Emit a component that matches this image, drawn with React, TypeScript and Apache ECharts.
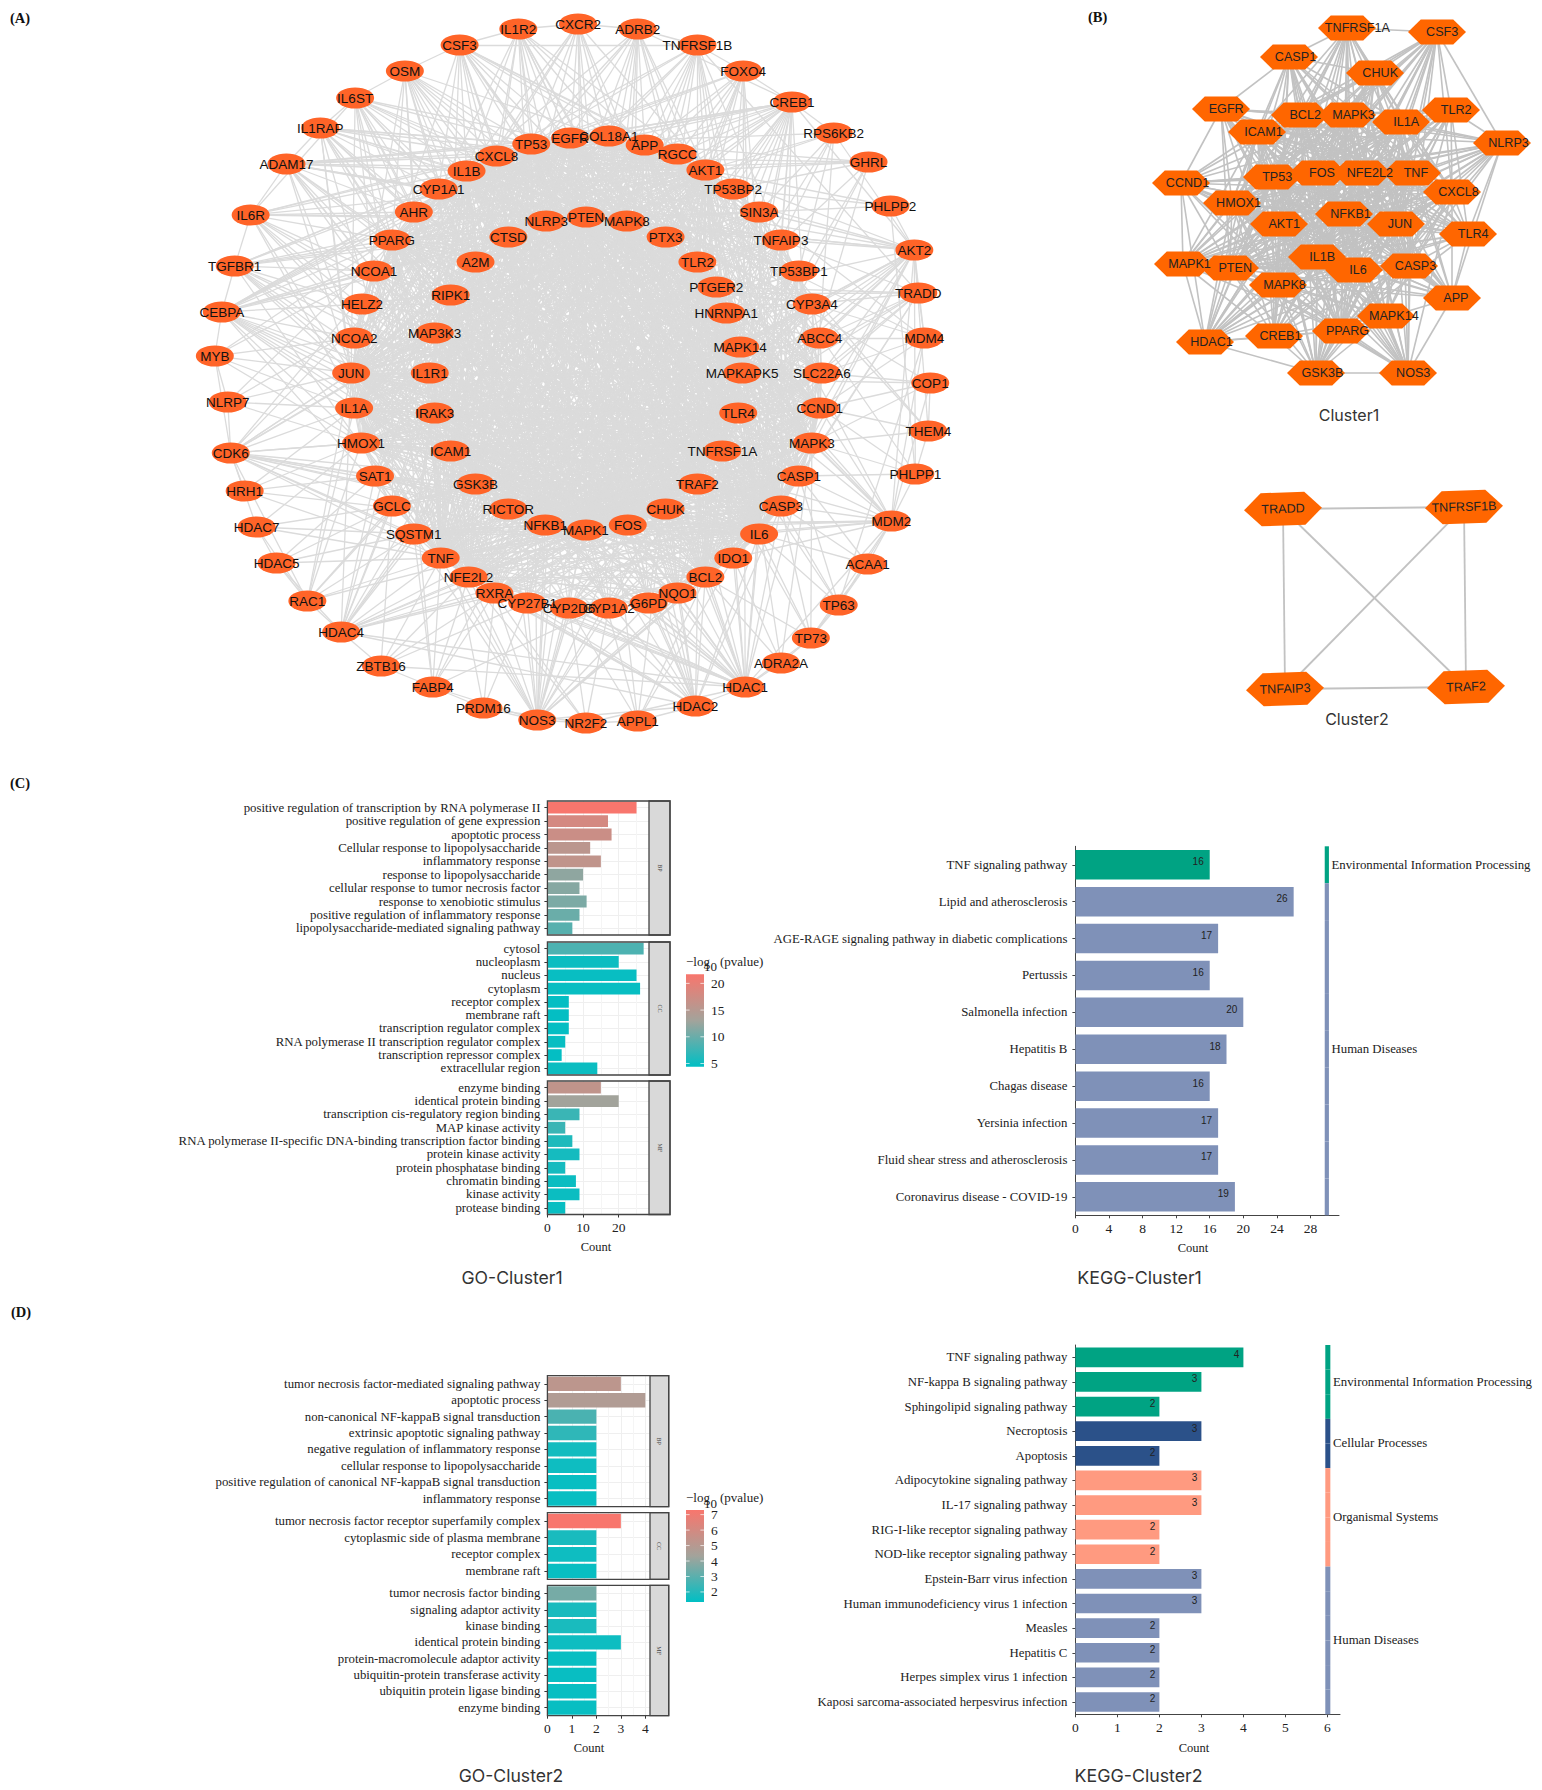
import React, { useEffect, useRef } from "react";
import * as echarts from "echarts";

// ---------- Network (A): gene, x, y (in network units) ----------
const outerRing: [string, number, number][] = [
  ["CXCR2",580,24],["ADRB2",640,29],["TNFRSF1B",700,45],["FOXO4",746,71],["CREB1",795,102],["RPS6KB2",837,133],["GHRL",872,162],["PHLPP2",894,206],["AKT2",918,250],["TRADD",922,293],["MDM4",928,338],["COP1",934,383],["THEM4",932,431],["PHLPP1",919,474],["MDM2",895,521],["ACAA1",871,564],["TP63",842,605],["TP73",814,638],["ADRA2A",784,663],["HDAC1",748,687],["HDAC2",698,706],["APPL1",640,721],["NR2F2",588,723],["NOS3",539,720],["PRDM16",485,708],["FABP4",434,687],["ZBTB16",382,666],["HDAC4",342,632],["RAC1",308,601],["HDAC5",277,563],["HDAC7",257,527],["HRH1",245,491],["CDK6",231,453],["NLRP7",228,402],["MYB",215,356],["CEBPA",222,312],["TGFBR1",235,266],["IL6R",251,215],["ADAM17",287,164],["IL1RAP",321,128],["IL6ST",356,98],["OSM",406,71],["CSF3",461,45],["IL1R2",520,29],
];
const middleRing: [string, number, number][] = [
  ["EGFR",572,138],["COL18A1",611,136],["APP",647,145],["RGCC",680,154],["AKT1",708,170],["TP53BP2",736,189],["SIN3A",762,212],["TNFAIP3",784,240],["TP53BP1",802,271],["CYP3A4",815,304],["ABCC4",823,338],["SLC22A6",825,373],["CCND1",823,408],["MAPK3",815,443],["CASP1",802,476],["CASP3",784,506],["IL6",762,534],["IDO1",736,558],["BCL2",708,577],["NQO1",680,593],["G6PD",651,603],["CYP1A2",611,608],["CYP2D6",571,608],["CYP27B1",529,603],["RXRA",496,593],["NFE2L2",470,577],["TNF",442,558],["SQSTM1",415,534],["GCLC",393,506],["SAT1",376,476],["HMOX1",362,443],["IL1A",355,408],["JUN",352,373],["NCOA2",355,338],["HELZ2",363,304],["NCOA1",375,271],["PPARG",393,240],["AHR",415,212],["CYP1A1",440,189],["IL1B",468,171],["CXCL8",498,156],["TP53",533,144],
];
const innerRing: [string, number, number][] = [
  ["PTEN",588,217],["MAPK8",629,221],["PTX3",668,237],["TLR2",700,262],["PTGER2",719,287],["HNRNPA1",729,313],["MAPK14",743,347],["MAPKAPK5",745,373],["TLR4",741,413],["TNFRSF1A",725,451],["TRAF2",700,484],["CHUK",668,509],["FOS",630,525],["MAPK1",588,530],["NFKB1",547,525],["RICTOR",510,509],["GSK3B",477,484],["ICAM1",452,451],["IRAK3",436,413],["IL1R1",431,373],["MAP3K3",436,333],["RIPK1",452,295],["A2M",477,262],["CTSD",510,237],["NLRP3",548,221],
];
// Core genes of network A that form the dense centre
const coreGenes = "TNFRSF1A CASP1 CHUK EGFR BCL2 MAPK3 TLR2 IL1A ICAM1 NLRP3 CCND1 TP53 FOS NFE2L2 TNF CXCL8 HMOX1 NFKB1 AKT1 JUN TLR4 IL1B IL6 CASP3 MAPK1 PTEN MAPK8 APP MAPK14 PPARG GSK3B".split(" ");
const setOne = "TP53 AKT1 TNF IL6 IL1B JUN FOS CASP3 NFKB1 PTEN MAPK1 MAPK8";
const setTwo = "MAPK3 BCL2 EGFR PPARG TLR4 CXCL8 APP HMOX1 GSK3B NFE2L2 MAPK14 CCND1";
const setThree = "TLR2 IL1A ICAM1 NLRP3 CASP1 CHUK TNFRSF1A SLC22A6 CYP3A4 RIPK1 TRAF2 IRAK3";
const peripheralLinks: [string, string][] = [
  ["COL18A1", `${setOne} ${setThree}`], ["RGCC", `${setTwo} SIN3A IL1R1`], ["TP53BP2", `${setOne} TP53BP1 SIN3A`], ["SIN3A", `${setOne} ${setThree}`],
  ["TNFAIP3", `${setOne} ${setThree}`], ["TP53BP1", `${setOne} ${setTwo}`], ["CYP3A4", `${setTwo} CYP1A1 CYP1A2 CYP2D6 CYP27B1 ABCC4`], ["ABCC4", `${setTwo} SLC22A6 RXRA`],
  ["SLC22A6", `${setOne} ${setTwo}`], ["IDO1", `${setOne} ${setThree}`], ["NQO1", `${setOne} ${setTwo} G6PD`], ["G6PD", `${setOne} RXRA`],
  ["CYP1A2", `${setTwo} CYP1A1 AHR CYP2D6`], ["CYP2D6", `${setTwo} RXRA`], ["CYP27B1", `${setOne} RXRA`], ["RXRA", `${setOne} ${setThree}`],
  ["SQSTM1", `${setOne} ${setThree}`], ["GCLC", `${setTwo} SAT1`], ["SAT1", `${setOne} IL1R1`], ["NCOA2", `${setTwo} NCOA1 HELZ2`],
  ["HELZ2", `${setThree} NCOA1`], ["NCOA1", `${setOne} ${setTwo}`], ["AHR", `${setOne} ${setTwo}`], ["CYP1A1", `${setOne} ${setTwo}`],
  ["PTX3", `${setOne} ${setThree}`], ["PTGER2", `${setOne} ${setTwo}`], ["HNRNPA1", `${setTwo} MAPK14 TRAF2`], ["MAPKAPK5", `${setOne} ${setThree}`],
  ["TRAF2", `${setOne} ${setTwo} RIPK1`], ["RICTOR", `${setOne} ${setThree}`], ["IRAK3", `${setOne} ${setTwo}`], ["IL1R1", `${setOne} ${setThree}`],
  ["MAP3K3", `${setOne} ${setThree}`], ["RIPK1", `${setOne} ${setTwo}`], ["A2M", `${setOne} ${setThree}`], ["CTSD", `${setOne} ${setTwo}`],
];
const outerLinks: [string, string][] = [
  ["CXCR2", `IL1R2 ADRB2 CXCL8 ${setOne}`],
  ["ADRB2", `CXCR2 TNFRSF1B EGFR MAPK3 APP CREB1 ${setOne}`],
  ["TNFRSF1B", `CSF3 ADRB2 TRADD TRAF2 CASP1 ${setOne} RIPK1 TNFAIP3`],
  ["FOXO4", `TNFRSF1B CREB1 HDAC1 EGFR BCL2 ${setOne}`],
  ["CREB1", `FOXO4 RPS6KB2 APP RGCC EGFR COL18A1 CXCL8 TP53BP2 SIN3A MAPK3 MAPK14 PPARG HDAC1 BCL2 GSK3B ${setOne}`],
  ["RPS6KB2", "AKT1 AKT2 CREB1 TNFAIP3 SIN3A TP53 PTEN MAPK1 TP53BP1 MAPK3"],
  ["GHRL", "IL1B AKT1 CXCL8 TNF NOS3 PTEN IL6 TLR4 APP"],
  ["PHLPP2", "AKT2 AKT1 PHLPP1 TP53BP2 SIN3A"],
  ["AKT2", `PHLPP2 MDM2 TRADD CCND1 GSK3B SLC22A6 CYP3A4 MAPK14 TNFAIP3 ABCC4 CREB1 SIN3A ${setOne}`],
  ["TRADD", "TNFAIP3 PTGER2 TNFRSF1A TRAF2 CASP3 CASP1 MDM4 CYP3A4 ABCC4 RIPK1 NFKB1 TNF"],
  ["MDM4", "MDM2 TP53 AKT2 ABCC4 SLC22A6 CCND1 TP63 CYP3A4 AKT1"],
  ["COP1", "MDM2 TP53 JUN SLC22A6 THEM4 CCND1 MAPK3"],
  ["THEM4", "AKT2 MAPK3 PHLPP1 CCND1 AKT1 CYP3A4"],
  ["PHLPP1", "AKT2 AKT1 MDM2 CASP1 MAPK3 CCND1"],
  ["MDM2", `ACAA1 PHLPP1 CCND1 CASP1 MAPK3 HDAC1 TP63 TP73 IDO1 ${setOne}`],
  ["ACAA1", "MDM2 TP63 CASP3 IL6 CASP1"],
  ["TP63", "TP73 MDM2 TP53 CASP3 CASP1 IL6"],
  ["TP73", "TP63 TP53 ACAA1 CASP3 HDAC1 BCL2 IL6 MAPK3"],
  ["ADRA2A", "HDAC1 TP73 IDO1 MAPK3 AKT1 BCL2"],
  ["HDAC1", `HDAC2 HDAC4 ADRA2A IDO1 BCL2 NQO1 G6PD CYP27B1 CYP2D6 RXRA NFE2L2 CCND1 PPARG TP53 ${setOne}`],
  ["HDAC2", `HDAC1 HDAC4 APPL1 BCL2 NFE2L2 RXRA CYP27B1 NQO1 G6PD NOS3 ${setOne}`],
  ["APPL1", "HDAC2 AKT1 EGFR MAPK1 CYP2D6 NR2F2 IDO1 BCL2"],
  ["NR2F2", "RXRA NOS3 HDAC1 CYP1A2 NFE2L2 APPL1 CYP2D6"],
  ["NOS3", `RXRA CYP27B1 CYP2D6 CYP1A2 BCL2 NFE2L2 EGFR G6PD SQSTM1 HDAC2 ${setOne}`],
  ["PRDM16", "FABP4 NOS3 RXRA PPARG NR2F2 CYP27B1"],
  ["FABP4", "PPARG TNF ZBTB16 NFE2L2 RXRA NOS3 PRDM16 SQSTM1 IL6 AKT1"],
  ["ZBTB16", "HDAC4 HDAC1 FABP4 RXRA TNF GCLC CYP27B1 NFE2L2"],
  ["HDAC4", `RAC1 HDAC5 HDAC2 HDAC1 SQSTM1 NFE2L2 GCLC SAT1 RXRA ZBTB16 ${setOne}`],
  ["RAC1", "HDAC4 HDAC5 TNF AKT1 SQSTM1 HMOX1 MAPK1 GCLC CDK6 IL1A JUN"],
  ["HDAC5", "HDAC7 HDAC4 TNF SQSTM1 GCLC SAT1"],
  ["HDAC7", "HDAC5 GCLC HMOX1 CDK6 RAC1 SQSTM1 TNF"],
  ["HRH1", "SAT1 IL1A CDK6 MAPK1 TNF HMOX1"],
  ["CDK6", `CCND1 IL1A HMOX1 SAT1 GCLC SQSTM1 NLRP7 HDAC1 ${setOne}`],
  ["NLRP7", "CDK6 IL1A NLRP3 MYB JUN IL1B HMOX1"],
  ["MYB", "CEBPA JUN NCOA2 IL1A HMOX1 CDK6 NCOA1 TP53"],
  ["CEBPA", `MYB TGFBR1 PPARG NCOA1 NCOA2 HELZ2 AHR EGFR CXCL8 HMOX1 HDAC1 ${setOne}`],
  ["TGFBR1", `IL6R CEBPA PPARG NCOA1 HELZ2 EGFR ${setOne}`],
  ["IL6R", `ADAM17 TGFBR1 IL6ST PPARG AHR CXCL8 NCOA1 ${setOne}`],
  ["ADAM17", `IL6R IL1RAP EGFR CXCL8 CYP1A1 PPARG AHR APP NCOA1 ${setOne}`],
  ["IL1RAP", `IL6ST ADAM17 CXCL8 IL1A CYP1A1 AHR PPARG RGCC ${setOne}`],
  ["IL6ST", `OSM IL1RAP CYP1A1 AHR PPARG CXCL8 NCOA1 ${setOne}`],
  ["OSM", `IL6ST CSF3 CXCL8 CYP1A1 PPARG AHR ${setOne}`],
  ["CSF3", `OSM IL1R2 TNFRSF1B CXCL8 EGFR COL18A1 APP CYP1A1 RGCC ${setOne}`],
  ["IL1R2", `CSF3 CXCR2 CXCL8 EGFR APP COL18A1 ${setOne}`],
];

// ---------- Clusters (B) ----------
const clusterOneNodes: [string, number, number][] = [
  ["TNFRSF1A",1347,28],["CSF3",1437,32],["CASP1",1289,57],["CHUK",1375,73],["EGFR",1221,109],["BCL2",1300,115],["MAPK3",1347,115],["TLR2",1451,110],["IL1A",1401,122],["ICAM1",1257,132],["NLRP3",1502,143],["CCND1",1181,183],["TP53",1272,177],["FOS",1318,173],["NFE2L2",1362,173],["TNF",1412,173],["CXCL8",1452,192],["HMOX1",1232,203],["NFKB1",1344,214],["AKT1",1279,224],["JUN",1396,224],["TLR4",1468,234],["IL1B",1317,257],["IL6",1354,270],["CASP3",1409,266],["MAPK1",1183,264],["PTEN",1230,268],["MAPK8",1278,285],["APP",1452,298],["MAPK14",1386,316],["PPARG",1341,331],["CREB1",1274,336],["HDAC1",1205,342],["GSK3B",1316,373],["NOS3",1408,373],
];
const clusterOneShell = "TNFRSF1A CSF3 CASP1 CHUK EGFR TLR2 NLRP3 CCND1 MAPK1 APP TLR4 HDAC1 GSK3B NOS3 CREB1 MAPK14".split(" ");
const clusterOneShellLinks: [string, string][] = [
  ["TNFRSF1A","CSF3"],["CASP1","TNFRSF1A"],["CSF3","NLRP3"],["CSF3","TLR2"],["EGFR","CASP1"],["EGFR","CCND1"],["CCND1","MAPK1"],["CCND1","HDAC1"],["MAPK1","HDAC1"],["HDAC1","GSK3B"],["HDAC1","CREB1"],["GSK3B","NOS3"],["NOS3","APP"],["APP","TLR4"],["NLRP3","TLR4"],["NLRP3","APP"],["GSK3B","MAPK14"],["CHUK","TNFRSF1A"],["CASP1","CHUK"],["NOS3","MAPK14"],["CREB1","GSK3B"],["TLR2","NLRP3"],["TLR2","TLR4"],["CSF3","CHUK"],["MAPK1","CREB1"],["CREB1","MAPK14"],
];
const clusterTwoNodes: [string, number, number][] = [["TRADD",1283,509],["TNFRSF1B",1464,507],["TNFAIP3",1285,689],["TRAF2",1466,687]];
const clusterTwoLinks: [string, string][] = [["TRADD","TNFRSF1B"],["TRADD","TNFAIP3"],["TNFAIP3","TRAF2"],["TNFRSF1B","TRAF2"],["TRADD","TRAF2"],["TNFRSF1B","TNFAIP3"]];

// ---------- GO-Cluster1 ----------
const go1BpTerms = ["positive regulation of transcription by RNA polymerase II","positive regulation of gene expression","apoptotic process","Cellular response to lipopolysaccharide","inflammatory response","response to lipopolysaccharide","cellular response to tumor necrosis factor","response to xenobiotic stimulus","positive regulation of inflammatory response","lipopolysaccharide-mediated signaling pathway"];
const go1BpCounts = [25,17,18,12,15,10,9,11,9,7];
const go1BpLogP = [21.7,18,17,15.5,16,12,11.5,11,10,9];
const go1CcTerms = ["cytosol","nucleoplasm","nucleus","cytoplasm","receptor complex","membrane raft","transcription regulator complex","RNA polymerase II transcription regulator complex","transcription repressor complex","extracellular region"];
const go1CcCounts = [27,20,25,26,6,6,6,5,4,14];
const go1CcLogP = [8.5,5,4.8,4.8,4.6,4.6,4.6,4.8,4.6,5];
const go1MfTerms = ["enzyme binding","identical protein binding","transcription cis-regulatory region binding","MAP kinase activity","RNA polymerase II-specific DNA-binding transcription factor binding","protein kinase activity","protein phosphatase binding","chromatin binding","kinase activity","protease binding"];
const go1MfCounts = [15,20,9,5,7,9,5,8,9,5];
const go1MfLogP = [16,13,7.5,7.5,6,5.5,5.5,5,5,4.8];
const go1LegendTicks = [5,10,15,20];

// ---------- GO-Cluster2 ----------
const go2BpTerms = ["tumor necrosis factor-mediated signaling pathway","apoptotic process","non-canonical NF-kappaB signal transduction","extrinsic apoptotic signaling pathway","negative regulation of inflammatory response","cellular response to lipopolysaccharide","positive regulation of canonical NF-kappaB signal transduction","inflammatory response"];
const go2BpCounts = [3,4,2,2,2,2,2,2];
const go2BpLogP = [5.2,4.8,2.7,2.2,1.7,1.6,1.5,1.5];
const go2CcTerms = ["tumor necrosis factor receptor superfamily complex","cytoplasmic side of plasma membrane","receptor complex","membrane raft"];
const go2CcCounts = [3,2,2,2];
const go2CcLogP = [7.3,1.8,1.6,1.5];
const go2MfTerms = ["tumor necrosis factor binding","signaling adaptor activity","kinase binding","identical protein binding","protein-macromolecule adaptor activity","ubiquitin-protein transferase activity","ubiquitin protein ligase binding","enzyme binding"];
const go2MfCounts = [2,2,2,3,2,2,2,2];
const go2MfLogP = [3.5,1.8,1.8,1.6,1.5,1.5,1.5,1.5];
const go2LegendTicks = [2,3,4,5,6,7];

// ---------- KEGG ----------
const kegg1Terms = ["TNF signaling pathway","Lipid and atherosclerosis","AGE-RAGE signaling pathway in diabetic complications","Pertussis","Salmonella infection","Hepatitis B","Chagas disease","Yersinia infection","Fluid shear stress and atherosclerosis","Coronavirus disease - COVID-19"];
const kegg1Counts = [16,26,17,16,20,18,16,17,17,19];
const kegg1Groups = ["Environmental Information Processing","Human Diseases","Human Diseases","Human Diseases","Human Diseases","Human Diseases","Human Diseases","Human Diseases","Human Diseases","Human Diseases"];
const kegg1Ticks = [0,4,8,12,16,20,24,28];
const kegg2Terms = ["TNF signaling pathway","NF-kappa B signaling pathway","Sphingolipid signaling pathway","Necroptosis","Apoptosis","Adipocytokine signaling pathway","IL-17 signaling pathway","RIG-I-like receptor signaling pathway","NOD-like receptor signaling pathway","Epstein-Barr virus infection","Human immunodeficiency virus 1 infection","Measles","Hepatitis C","Herpes simplex virus 1 infection","Kaposi sarcoma-associated herpesvirus infection"];
const kegg2Counts = [4,3,2,3,2,3,3,2,2,3,3,2,2,2,2];
const kegg2Groups = ["Environmental Information Processing","Environmental Information Processing","Environmental Information Processing","Cellular Processes","Cellular Processes","Organismal Systems","Organismal Systems","Organismal Systems","Organismal Systems","Human Diseases","Human Diseases","Human Diseases","Human Diseases","Human Diseases","Human Diseases"];
const kegg2Ticks = [0,1,2,3,4,5,6];

const groupColors: Record<string, string> = {
  "Environmental Information Processing": "#00A383",
  "Cellular Processes": "#2B5189",
  "Organismal Systems": "#FF9A80",
  "Human Diseases": "#7F91B8",
};

const SERIF = "Liberation Serif";
const SANS = "Liberation Sans";
const TITLE = "Inter";
const ELLIPSE = "path://M0 50 A50 50 0 1 1 100 50 A50 50 0 1 1 0 50 Z";
const HEX = "path://M0 50 L22 0 L78 0 L100 50 L78 100 L22 100 Z";
const LOW = "#00BFC4", MID = "#A3A39B", HIGH = "#F8766D";

function hexToRgb(h: string) { return [1, 3, 5].map((i) => parseInt(h.slice(i, i + 2), 16)); }
function scaleColor(v: number, low: number, high: number) {
  const t = Math.max(0, Math.min(1, (v - low) / (high - low)));
  const [a, b, u] = t < 0.5 ? [LOW, MID, t * 2] as const : [MID, HIGH, (t - 0.5) * 2] as const;
  const A = hexToRgb(a), B = hexToRgb(b);
  return `rgb(${A.map((c, i) => Math.round(c + (B[i] - c) * u)).join(",")})`;
}

function buildOption() {
  const grid: any[] = [], xAxis: any[] = [], yAxis: any[] = [], series: any[] = [], graphic: any[] = [];
  const addText = (text: string, x: number, y: number, fontSize: number, fontFamily: string, extra: any = {}) =>
    graphic.push({ type: "text", silent: true, z: 30, x, y, rotation: extra.rotation || 0, style: { text, fontSize, fontFamily, fill: extra.fill || "#222", fontWeight: extra.fontWeight || "normal", align: extra.align || "center", verticalAlign: "middle" } });

  const addNetworkGrid = (left: number, top: number, w: number, h: number, x0: number, x1: number, y0: number, y1: number) => {
    const i = grid.length;
    grid.push({ left, top, width: w, height: h, show: false });
    xAxis.push({ gridIndex: i, type: "value", min: x0, max: x1, show: false, splitLine: { show: false } });
    yAxis.push({ gridIndex: i, type: "value", min: y0, max: y1, inverse: true, show: false, splitLine: { show: false } });
    return i;
  };
  const addGraph = (i: number, nodes: [string, number, number][], links: [string, string][], o: any) => {
    const names = new Set(nodes.map((n) => n[0]));
    const seen = new Set<string>();
    const edges: any[] = [];
    links.forEach(([a, b]) => {
      const key = [a, b].sort().join("|");
      if (a === b || seen.has(key) || !names.has(a) || !names.has(b)) return;
      seen.add(key);
      edges.push({ source: a, target: b });
    });
    series.push({
      type: "graph", coordinateSystem: "cartesian2d", xAxisIndex: i, yAxisIndex: i, layout: "none", silent: true, roam: false,
      symbol: o.symbol, symbolSize: o.size, symbolRotate: o.rotate || 0, symbolKeepAspect: false,
      data: nodes.map((n) => ({ name: n[0], value: [n[1], n[2]], label: o.shift ? { offset: [n[0].length * o.shift, 0] } : undefined })), links: edges,
      itemStyle: { color: o.color, opacity: 1 },
      lineStyle: { color: o.edge, width: o.edgeWidth, opacity: 1, curveness: 0 },
      label: { show: true, position: "inside", formatter: "{b}", color: o.labelColor, fontSize: o.fontSize, fontFamily: SANS, rotate: o.rotate || 0 },
      emphasis: { disabled: true },
    });
  };

  // --- Network A
  const allPairs = (list: string[]) => { const r: [string, string][] = []; list.forEach((a, i) => list.slice(i + 1).forEach((b) => r.push([a, b]))); return r; };
  const expand = (table: [string, string][]) => table.flatMap(([a, s]) => s.split(" ").map((b) => [a, b] as [string, string]));
  const aGrid = addNetworkGrid(180, 0, 780, 790, 180, 180 + 780 * 1.005, 0, 790);
  addGraph(aGrid, [...outerRing, ...middleRing, ...innerRing], [...allPairs(coreGenes), ...expand(peripheralLinks), ...expand(outerLinks)], { symbol: ELLIPSE, size: [38, 21], color: "#FF6428", edge: "#DBDBDB", edgeWidth: 1.3, labelColor: "#111", fontSize: 13.5 });

  // --- Cluster 1, 2
  const bGrid = addNetworkGrid(1130, 0, 412, 760, 1130, 1542, 0, 760);
  const clusterNames = clusterOneNodes.map((n) => n[0]);
  const shell = new Set(clusterOneShell);
  const clusterOneLinks: [string, string][] = [...allPairs(clusterNames).filter(([a, b]) => !(shell.has(a) && shell.has(b))), ...clusterOneShellLinks];
  addGraph(bGrid, clusterOneNodes, clusterOneLinks, { symbol: HEX, size: [58, 25], color: "#FF6600", edge: "#C2C2C2", edgeWidth: 1.6, labelColor: "#222", fontSize: 12.6, shift: 1.3 });
  const cGrid = addNetworkGrid(1130, 0, 412, 760, 1130, 1542, 0, 760);
  addGraph(cGrid, clusterTwoNodes, clusterTwoLinks, { symbol: HEX, size: [78, 33], rotate: 2, color: "#FF6600", edge: "#C2C2C2", edgeWidth: 1.8, labelColor: "#222", fontSize: 12.6 });

  // --- GO panels
  const goPanel = (terms: string[], counts: number[], logP: number[], top: number, bottom: number, strip: string, g: any, showAxis: boolean) => {
    const i = grid.length;
    grid.push({ left: g.left, top, width: g.stripLeft - g.left, height: bottom - top, show: false });
    xAxis.push({
      gridIndex: i, type: "value", min: 0, max: g.max, interval: g.interval,
      axisLine: { show: false },
      axisTick: { show: showAxis, length: 3, lineStyle: { color: "#333" }, customValues: g.ticks },
      axisLabel: { show: showAxis, customValues: g.ticks, fontFamily: SERIF, fontSize: 13.5, color: "#222", margin: 6 },
      splitLine: { show: true, lineStyle: { color: "#EFEFEF", width: 1 } },
      minorTick: { show: false, splitNumber: 2 },
      minorSplitLine: { show: true, lineStyle: { color: "#F5F5F5", width: 1 } },
    });
    yAxis.push({
      gridIndex: i, type: "category", inverse: true, data: terms,
      axisLine: { show: false },
      axisTick: { show: true, length: 3, alignWithLabel: true, lineStyle: { color: "#333" } },
      axisLabel: { fontFamily: SERIF, fontSize: 12.8, color: "#222", margin: 7, interval: 0 },
      splitLine: { show: true, alignWithLabel: true, lineStyle: { color: "#EFEFEF", width: 1 } },
    });
    series.push({
      type: "bar", xAxisIndex: i, yAxisIndex: i, silent: true, barWidth: "88%",
      data: counts.map((c, k) => ({ value: c, itemStyle: { color: scaleColor(logP[k], g.low, g.high) } })),
    });
    graphic.push({ type: "rect", silent: true, z: 20, shape: { x: g.stripLeft, y: top, width: g.right - g.stripLeft, height: bottom - top }, style: { fill: "#D9D9D9", stroke: "#444", lineWidth: 1.3 } });
    graphic.push({ type: "rect", silent: true, z: 21, shape: { x: g.left, y: top, width: g.right - g.left, height: bottom - top }, style: { fill: "none", stroke: "#444", lineWidth: 1.3 } });
    addText(strip, (g.stripLeft + g.right) / 2, (top + bottom) / 2, 6, SERIF, { rotation: -Math.PI / 2, fill: "#444" });
  };
  const legend = (ticks: number[], g: any, x: number, top: number, bottom: number, titleY: number, subY: number, subX: number, restX: number) => {
    graphic.push({ type: "rect", silent: true, z: 20, shape: { x, y: top, width: 18, height: bottom - top }, style: { fill: { type: "linear", x: 0, y: 1, x2: 0, y2: 0, colorStops: [{ offset: 0, color: LOW }, { offset: 0.5, color: MID }, { offset: 1, color: HIGH }] } } });
    ticks.forEach((v) => {
      const y = bottom - ((v - g.low) / (g.high - g.low)) * (bottom - top);
      [[x, x + 3.6], [x + 14.4, x + 18]].forEach(([a, b]) => graphic.push({ type: "line", silent: true, z: 21, shape: { x1: a, y1: y, x2: b, y2: y }, style: { stroke: "#fff", lineWidth: 0.7 } }));
      addText(String(v), x + 25, y, 13.5, SERIF, { align: "left" });
    });
    addText("−log", x, titleY, 13, SERIF, { align: "left" });
    addText("10", subX, subY, 13, SERIF, { align: "left" });
    addText("(pvalue)", restX, titleY, 13, SERIF, { align: "left" });
  };

  const g1 = { left: 547.4, stripLeft: 649, right: 670, max: 28.5, interval: 10, ticks: [0, 10, 20], low: 4.4, high: 21.7 };
  goPanel(go1BpTerms, go1BpCounts, go1BpLogP, 801, 935, "BP", g1, false);
  goPanel(go1CcTerms, go1CcCounts, go1CcLogP, 942, 1075, "CC", g1, false);
  goPanel(go1MfTerms, go1MfCounts, go1MfLogP, 1081, 1214.5, "MF", g1, true);
  legend(go1LegendTicks, g1, 686, 974.3, 1066.7, 961.7, 966.7, 704, 720);
  addText("Count", 596, 1247, 12.5, SERIF);
  addText("GO-Cluster1", 512, 1277, 17.6, TITLE, { fill: "#333" });

  const g2 = { left: 547.4, stripLeft: 650, right: 668.7, max: 4.19, interval: 1, ticks: [0, 1, 2, 3, 4], low: 1.35, high: 7.3 };
  goPanel(go2BpTerms, go2BpCounts, go2BpLogP, 1375.7, 1506.7, "BP", g2, false);
  goPanel(go2CcTerms, go2CcCounts, go2CcLogP, 1512.7, 1579.3, "CC", g2, false);
  goPanel(go2MfTerms, go2MfCounts, go2MfLogP, 1585.3, 1715.7, "MF", g2, true);
  legend(go2LegendTicks, g2, 686, 1510, 1602, 1497.7, 1503, 704, 720);
  addText("Count", 589, 1747.7, 12.5, SERIF);
  addText("GO-Cluster2", 511, 1775, 17.6, TITLE, { fill: "#333" });

  // --- KEGG panels
  const keggPanel = (terms: string[], counts: number[], groups: string[], g: any) => {
    const i = grid.length;
    const h = g.bottom - g.top;
    grid.push({ left: g.left, top: g.top, width: g.width, height: h, show: false });
    xAxis.push({
      gridIndex: i, type: "value", min: 0, max: g.max, interval: g.interval, splitLine: { show: false },
      axisLine: { show: true, lineStyle: { color: "#444", width: 1 } },
      axisTick: { show: true, length: 3, lineStyle: { color: "#444" }, customValues: g.ticks },
      axisLabel: { customValues: g.ticks, fontFamily: SERIF, fontSize: 13.5, color: "#222", margin: 6 },
    });
    yAxis.push({
      gridIndex: i, type: "category", inverse: true, data: terms,
      axisLine: { show: true, lineStyle: { color: "#444", width: 1 } },
      axisTick: { show: true, length: 3, alignWithLabel: true, lineStyle: { color: "#444" } },
      axisLabel: { fontFamily: SERIF, fontSize: 12.8, color: "#222", margin: 8, interval: 0 },
      splitLine: { show: false },
    });
    series.push({
      type: "bar", xAxisIndex: i, yAxisIndex: i, silent: true, barWidth: "80%", z: 3,
      data: counts.map((c, k) => ({ value: c, itemStyle: { color: groupColors[groups[k]] } })),
      label: { show: true, position: "insideRight", distance: g.labelDist, offset: [0, -3], fontSize: 10, fontFamily: SANS, color: "#222" },
    });
    // side strip: one stacked bar per row, on an overlaid grid
    const j = grid.length;
    const stack = `strip${j}`;
    grid.push({ left: g.left, top: g.top, width: g.width, height: h, show: false });
    xAxis.push({ gridIndex: j, type: "value", min: 0, max: g.max, show: false, splitLine: { show: false } });
    yAxis.push({ gridIndex: j, type: "category", inverse: true, data: terms, show: false });
    series.push({ type: "bar", xAxisIndex: j, yAxisIndex: j, silent: true, stack, barWidth: "100%", data: terms.map(() => g.stripStart), itemStyle: { color: "rgba(0,0,0,0)" } });
    series.push({ type: "bar", xAxisIndex: j, yAxisIndex: j, silent: true, stack, barWidth: "100%", data: groups.map((name) => ({ value: g.stripWidth, itemStyle: { color: groupColors[name] } })) });
    // group captions centred on the rows they span
    const band = h / terms.length;
    Array.from(new Set(groups)).forEach((name) => {
      const first = groups.indexOf(name), last = groups.lastIndexOf(name);
      addText(name, g.captionX, g.top + ((first + last + 1) / 2) * band, 12.8, SERIF, { align: "left" });
    });
  };
  keggPanel(kegg1Terms, kegg1Counts, kegg1Groups, { left: 1075.4, width: 263.6, top: 846.3, bottom: 1215.3, max: 31.4, interval: 4, ticks: kegg1Ticks, stripStart: 29.7, stripWidth: 0.5, captionX: 1331.5, labelDist: 6 });
  addText("Count", 1193, 1248, 12.5, SERIF);
  addText("KEGG-Cluster1", 1139.6, 1277, 17.8, TITLE, { fill: "#333" });
  keggPanel(kegg2Terms, kegg2Counts, kegg2Groups, { left: 1075.4, width: 264.6, top: 1345, bottom: 1714.3, max: 6.3, interval: 1, ticks: kegg2Ticks, stripStart: 5.95, stripWidth: 0.12, captionX: 1333, labelDist: 4 });
  addText("Count", 1194, 1748, 12.5, SERIF);
  addText("KEGG-Cluster2", 1138.6, 1775, 17.8, TITLE, { fill: "#333" });

  // --- Captions
  addText("Cluster1", 1349, 415, 16, TITLE, { fill: "#333" });
  addText("Cluster2", 1357, 719, 16, TITLE, { fill: "#333" });
  [["(A)", 10, 18], ["(B)", 1088, 17], ["(C)", 10, 783], ["(D)", 11, 1312]].forEach(([t, x, y]) =>
    addText(t as string, x as number, y as number, 14.5, SERIF, { align: "left", fontWeight: "bold", fill: "#111" }));

  return { animation: false, backgroundColor: "#fff", tooltip: { show: false }, grid, xAxis, yAxis, series, graphic };
}

export default function App() {
  const ref = useRef<HTMLDivElement>(null);
  useEffect(() => {
    const chart = echarts.init(ref.current!, undefined, { renderer: "svg" });
    chart.setOption(buildOption() as any);
    return () => chart.dispose();
  }, []);
  return <div ref={ref} style={{ position: "absolute", left: 0, top: 0, width: 1542, height: 1790 }} />;
}
